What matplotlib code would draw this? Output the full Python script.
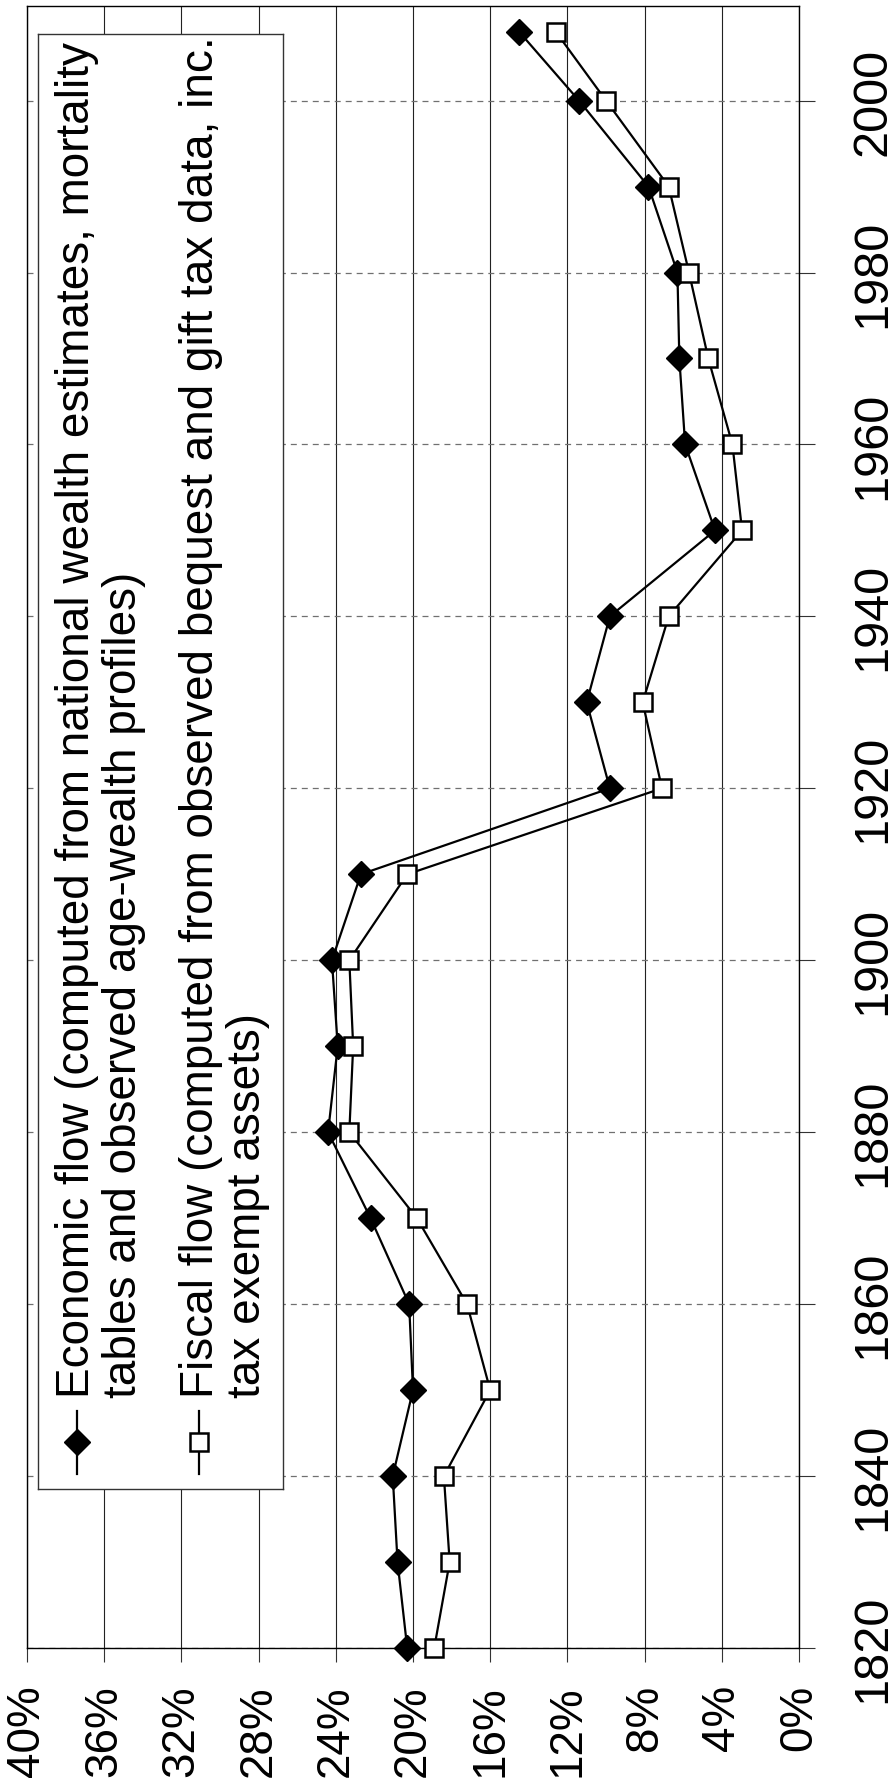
import matplotlib
matplotlib.use("Agg")
import matplotlib.pyplot as plt

plt.rcParams['font.family'] = ['Liberation Sans', 'DejaVu Sans']
plt.rcParams['lines.scale_dashes'] = False

# --- data ---
years = [1820, 1830, 1840, 1850, 1860, 1870, 1880, 1890, 1900, 1910,
         1920, 1930, 1940, 1950, 1960, 1970, 1980, 1990, 2000, 2008]
economic = [20.3, 20.8, 21.05, 20.0, 20.2, 22.2, 24.4, 23.9, 24.2, 22.7,
            9.8, 11.0, 9.8, 4.35, 5.9, 6.2, 6.3, 7.8, 11.4, 14.5]
fiscal = [18.9, 18.1, 18.4, 16.0, 17.2, 19.8, 23.3, 23.1, 23.3, 20.3,
          7.1, 8.1, 6.75, 2.95, 3.45, 4.7, 5.7, 6.75, 10.0, 12.6]

pct_ticks = [40, 36, 32, 28, 24, 20, 16, 12, 8, 4, 0]
year_ticks = [1820, 1840, 1860, 1880, 1900, 1920, 1940, 1960, 1980, 2000]

label_econ = ("Economic flow (computed from national wealth estimates, mortality\n"
              "tables and observed age-wealth profiles)")
label_fisc = ("Fiscal flow (computed from observed bequest and gift tax data, inc.\n"
              "tax exempt assets)")

FS = 33
W, H = 894, 1790

fig = plt.figure(figsize=(W / 100, H / 100), dpi=100)

# the chart is drawn turned a quarter: percent runs along the bottom, years up the right side
ax = fig.add_axes([27 / W, 1 - 1649 / H, (799 - 27) / W, (1649 - 7) / H])
ax.plot(economic, years, color='black', lw=1.6, marker='D', ms=13,
        mfc='black', mec='black', mew=1, zorder=3, clip_on=False)
ax.plot(fiscal, years, color='black', lw=1.6, marker='s', ms=13,
        mfc='white', mec='black', mew=1.8, zorder=3, clip_on=False)

ax.set_xlim(40, 0)
ax.set_ylim(1820, 2011)

ax.yaxis.tick_right()
ax.tick_params(axis='x', direction='out', length=10, width=0.8, color='#333333',
               pad=16, labelsize=33, labelrotation=90)
ax.tick_params(axis='y', direction='out', length=11.5, width=0.8, color='#333333',
               pad=25.5, labelsize=35, labelrotation=90)
ax.set_xticks(pct_ticks, [f"{p}%" for p in pct_ticks])
ax.set_yticks(year_ticks, [str(y) for y in year_ticks])
for t in ax.get_yticklabels():
    t.set_verticalalignment('center')

ax.grid(axis='x', color='#222222', lw=0.8, ls='-', zorder=1)
ax.grid(axis='y', color='#707070', lw=0.9, ls=(0, (4.3, 3.6)), zorder=1)
ax.set_axisbelow(True)
for s in ax.spines.values():
    s.set_color('black')
    s.set_linewidth(1.0)

# hand-made legend, box in pixel units
leg = fig.add_axes([38 / W, 1 - 1490 / H, (283 - 38) / W, (1490 - 35) / H])
leg.set_xlim(38, 283)
leg.set_ylim(1490, 35)
leg.set_xticks([])
leg.set_yticks([])
leg.set_facecolor('white')
for s in leg.spines.values():
    s.set_color('#333333')
    s.set_linewidth(1.0)

leg.plot([77, 77], [1412, 1475], color='black', lw=1.6)
leg.plot([77], [1443], marker='D', ms=13, mfc='black', mec='black', mew=1)
leg.plot([199, 199], [1412, 1475], color='black', lw=1.6)
leg.plot([199], [1443], marker='s', ms=13, mfc='white', mec='black', mew=1.8)

leg.text(55, 1398, label_econ, rotation=90, ha='left', va='bottom',
         fontsize=FS, linespacing=1.1)
leg.text(179, 1398, label_fisc, rotation=90, ha='left', va='bottom',
         fontsize=FS, linespacing=1.1)

fig.savefig("out.png", dpi=100)
